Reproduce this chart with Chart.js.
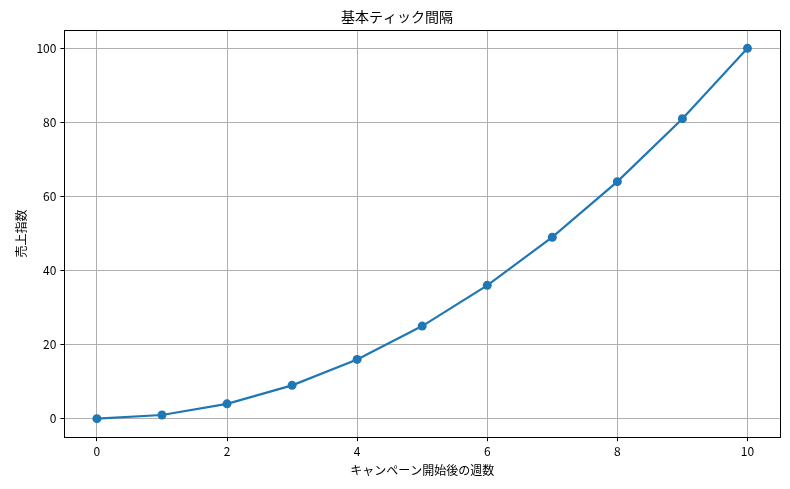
<!DOCTYPE html>
<html>
<head>
<meta charset="utf-8">
<script src="https://cdn.jsdelivr.net/npm/chart.js@4/dist/chart.umd.min.js"></script>
<style>
  html, body { margin: 0; padding: 0; background: #fff; }
  #wrap { width: 790px; height: 489px; }
</style>
</head>
<body>
<div id="wrap"><canvas id="grafica" width="790" height="489"></canvas></div>
<script>
const semanas = [0, 1, 2, 3, 4, 5, 6, 7, 8, 9, 10];
const ventas = [0, 1, 4, 9, 16, 25, 36, 49, 64, 81, 100];
const ticksX = [0, 2, 4, 6, 8, 10];
const ticksY = [0, 20, 40, 60, 80, 100];

const fuente = "'Noto Sans CJK JP', 'Noto Sans', sans-serif";

// marco completo alrededor del area de la grafica
const marco = {
    id: 'marco',
    afterDraw(chart) {
        const { ctx, chartArea: a } = chart;
        ctx.save();
        ctx.strokeStyle = '#000';
        ctx.lineWidth = 1;
        ctx.strokeRect(Math.round(a.left) + 0.5, Math.round(a.top) + 0.5,
            Math.round(a.right - a.left), Math.round(a.bottom - a.top));
        ctx.restore();
    }
};

new Chart(document.getElementById('grafica'), {
    type: 'line',
    data: {
        datasets: [{
            data: semanas.map((s, i) => ({ x: s, y: ventas[i] })),
            borderColor: '#1f77b4',
            backgroundColor: '#1f77b4',
            borderWidth: 2.2,
            pointRadius: 4.5,
            pointHoverRadius: 4.5,
            pointBorderWidth: 0,
            tension: 0
        }]
    },
    options: {
        responsive: false,
        animation: false,
        layout: { padding: { left: 14, right: 10, top: 0, bottom: 11 } },
        plugins: {
            legend: { display: false },
            tooltip: { enabled: false },
            title: {
                display: true,
                text: '基本ティック間隔',
                color: '#000',
                font: { family: fuente, size: 14, weight: 'normal' },
                padding: { top: 8, bottom: 5 }
            }
        },
        scales: {
            x: {
                type: 'linear',
                min: -0.5,
                max: 10.5,
                afterBuildTicks: ax => { ax.ticks = ticksX.map(v => ({ value: v })); },
                grid: { color: '#b0b0b0', lineWidth: 1, tickLength: 4, tickColor: '#000', drawTicks: true },
                border: { display: false },
                ticks: { color: '#000', font: { family: fuente, size: 12 }, padding: 3, maxRotation: 0 },
                title: { display: true, text: 'キャンペーン開始後の週数', color: '#000', font: { family: fuente, size: 12 }, padding: { top: 2, bottom: 0 } }
            },
            y: {
                min: -5,
                max: 105,
                afterBuildTicks: ax => { ax.ticks = ticksY.map(v => ({ value: v })); },
                grid: { color: '#b0b0b0', lineWidth: 1, tickLength: 4, tickColor: '#000', drawTicks: true },
                border: { display: false },
                ticks: { color: '#000', font: { family: fuente, size: 12 }, padding: 4 },
                title: { display: true, text: '売上指数', color: '#000', font: { family: fuente, size: 12 }, padding: { top: 0, bottom: 4 } }
            }
        }
    },
    plugins: [marco]
});
</script>
</body>
</html>
